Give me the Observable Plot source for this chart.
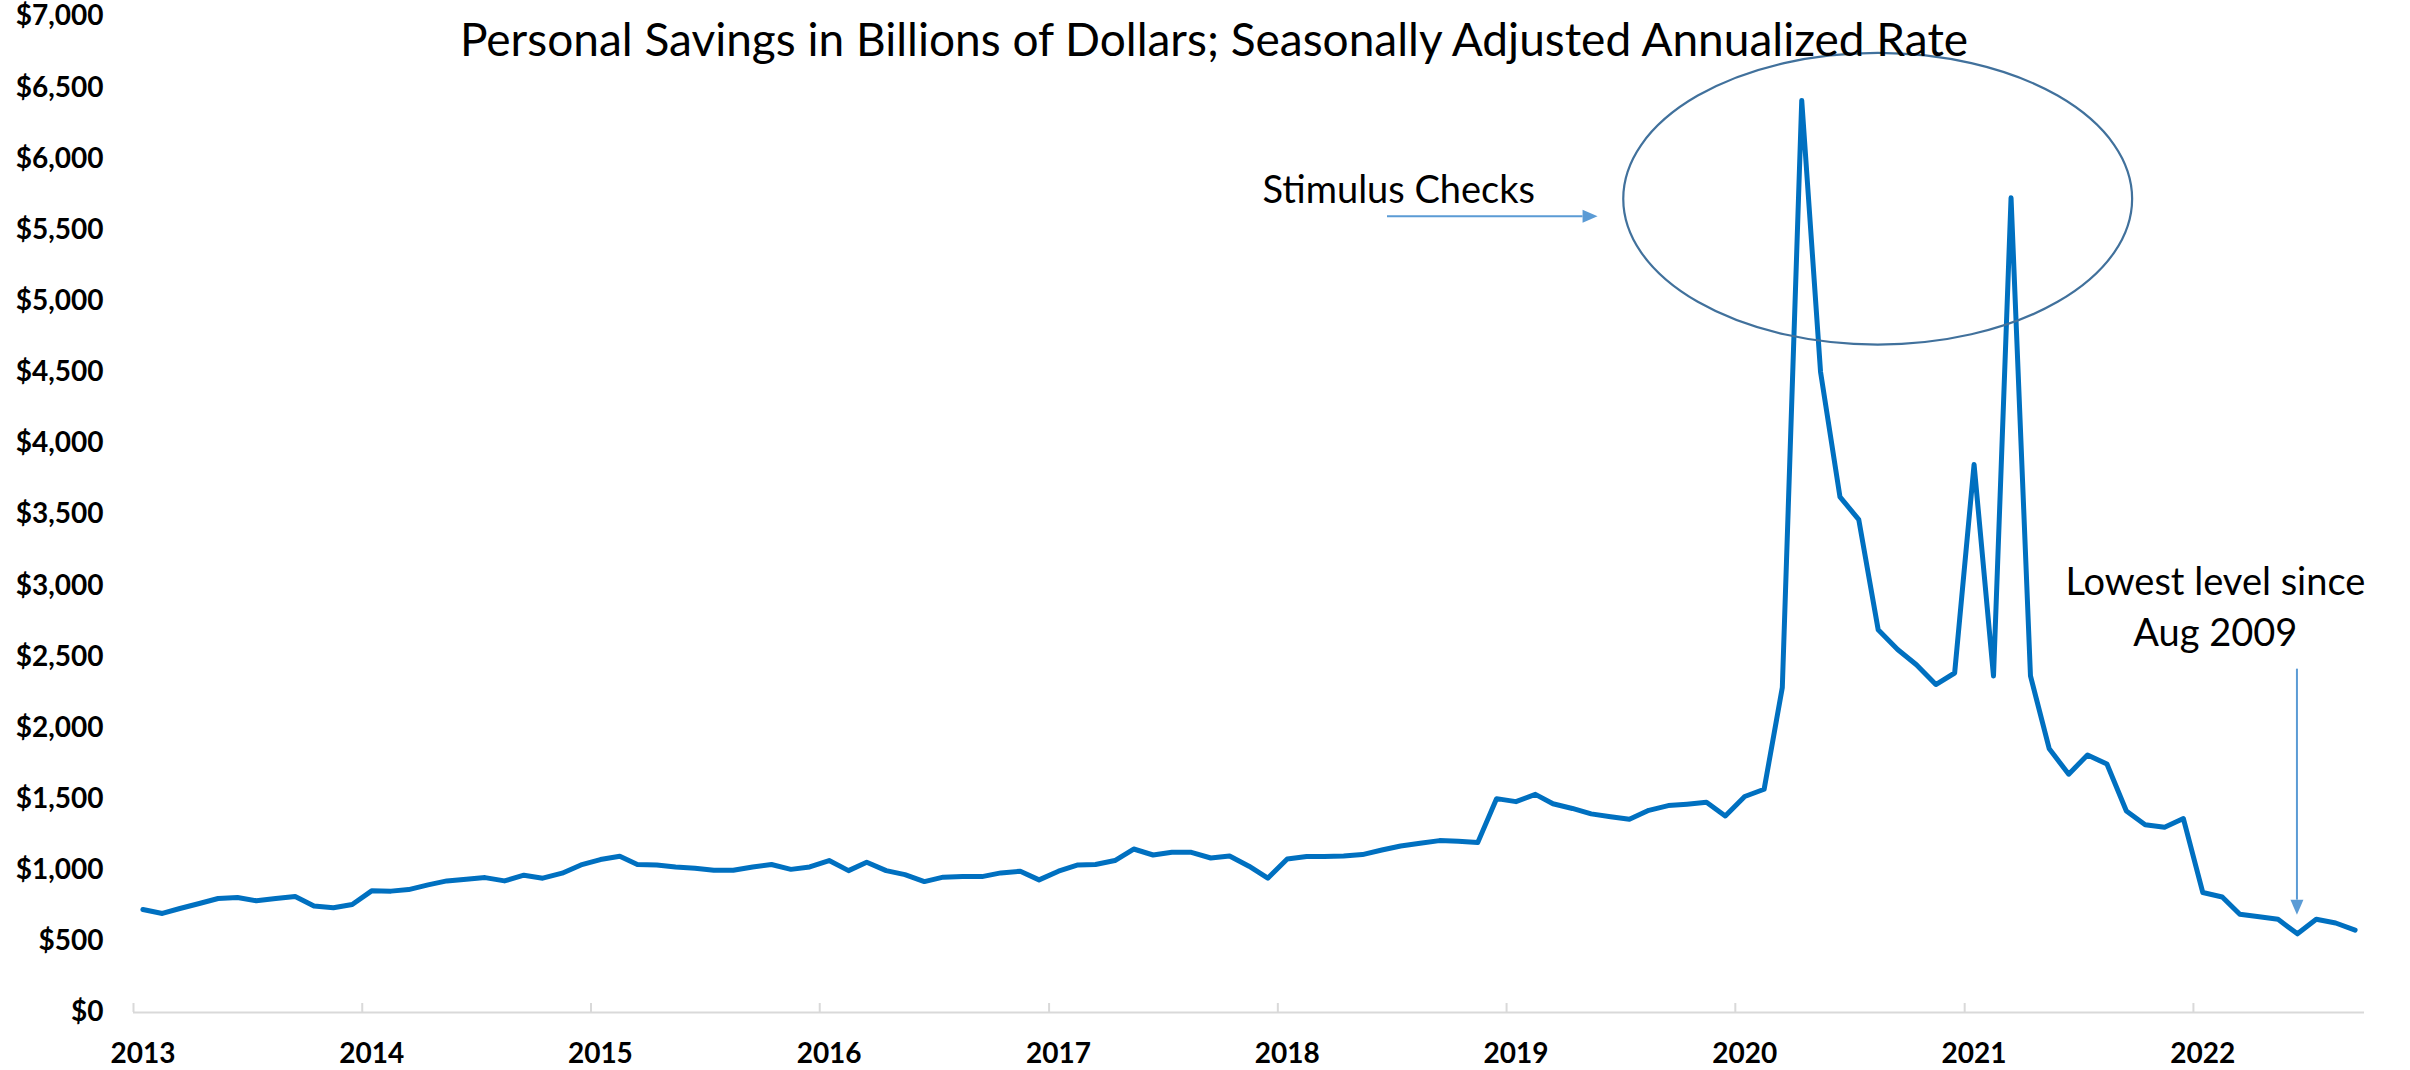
<!DOCTYPE html>
<html>
<head>
<meta charset="utf-8">
<script src="https://cdn.jsdelivr.net/npm/d3@7"></script>
<script src="https://cdn.jsdelivr.net/npm/@observablehq/plot@0.6"></script>
<style>
  html, body { margin: 0; padding: 0; background: #ffffff; }
  #wrap { position: relative; width: 2410px; height: 1070px; overflow: hidden; }
  #title {
    position: absolute; left: 0; top: 16px; width: 2428px;
    text-align: center; font-family: Lato, "Open Sans", sans-serif;
    font-size: 46px; line-height: 46px; color: #000; white-space: nowrap;
  }
</style>
</head>
<body>
<div id="wrap">
  <div id="chart"></div>
  <div id="title">Personal Savings in Billions of Dollars; Seasonally Adjusted Annualized Rate</div>
</div>
<script>
// ---- Data (billions of dollars, SAAR), monthly ----
const yearLabels = ["2013", "2014", "2015", "2016", "2017", "2018", "2019", "2020", "2021", "2022"];
const s2013 = [724, 696, 731, 766, 801, 808, 785, 801, 815, 748, 736, 759];
const s2014 = [855, 853, 864, 897, 925, 937, 948, 925, 965, 944, 979, 1037];
const s2015 = [1075, 1098, 1040, 1037, 1023, 1014, 1000, 1000, 1023, 1040, 1006, 1023];
const s2016 = [1068, 997, 1056, 997, 969, 920, 951, 955, 955, 981, 993, 932];
const s2017 = [993, 1037, 1040, 1068, 1149, 1107, 1126, 1126, 1086, 1100, 1028, 944];
const s2018 = [1079, 1096, 1096, 1100, 1110, 1142, 1170, 1189, 1208, 1203, 1194, 1503];
const s2019 = [1482, 1533, 1467, 1434, 1396, 1376, 1358, 1421, 1454, 1464, 1477, 1381];
const s2020 = [1518, 1569, 2284, 6410, 4503, 3624, 3464, 2690, 2551, 2444, 2305, 2386];
const s2021 = [3852, 2365, 5726, 2365, 1853, 1675, 1810, 1746, 1416, 1320, 1302, 1363];
const s2022 = [843, 812, 690, 673, 655, 553, 655, 629, 579];
const seriesByYear = [s2013, s2014, s2015, s2016, s2017, s2018, s2019, s2020, s2021, s2022];

const yTicks = [0, 500, 1000, 1500, 2000, 2500, 3000, 3500, 4000, 4500, 5000, 5500, 6000, 6500, 7000];

// annotations (in data space)
const stimulusNote = [{date: "2018-07-13", value: 5776, text: "Stimulus Checks"}];
const lowestNote = [{date: "2022-02-05", value: 2867, text: "Lowest level since\nAug 2009"}];
const stimulusEllipse = {x1: "2019-07-07", x2: "2021-09-26", y1: 6741, y2: 4691};
const arrows = [
  {x1: "2018-06-25", x2: "2019-05-27", y1: 5593, y2: 5593},
  {x1: "2022-06-16", x2: "2022-06-16", y1: 2413, y2: 684}
];

// ---- Build table ----
const rows = [];
seriesByYear.forEach((vals, i) => {
  const yr = +yearLabels[i];
  vals.forEach((v, m) => rows.push({date: new Date(Date.UTC(yr, m, 16)), value: v}));
});
const yearTicks = yearLabels.map(y => new Date(Date.UTC(+y, 0, 1)));
const yearLabelPos = yearLabels.map(y => new Date(Date.UTC(+y, 0, 16)));
const parse = s => new Date(s + "T00:00:00Z");

function annotations(index, scales) {
  const x = scales.x, y = scales.y;
  const g = d3.create("svg:g");
  const e = stimulusEllipse;
  const ex1 = x(parse(e.x1)), ex2 = x(parse(e.x2)), ey1 = y(e.y1), ey2 = y(e.y2);
  g.append("ellipse")
    .attr("cx", (ex1 + ex2) / 2).attr("cy", (ey1 + ey2) / 2)
    .attr("rx", Math.abs(ex2 - ex1) / 2).attr("ry", Math.abs(ey2 - ey1) / 2)
    .attr("fill", "none").attr("stroke", "#41719c").attr("stroke-width", 2.2);
  for (const a of arrows) {
    const ax1 = x(parse(a.x1)), ay1 = y(a.y1), ax2 = x(parse(a.x2)), ay2 = y(a.y2);
    const ang = Math.atan2(ay2 - ay1, ax2 - ax1);
    const L = 15, W = 6.5;
    const bx = ax2 - L * Math.cos(ang), by = ay2 - L * Math.sin(ang);
    g.append("line").attr("x1", ax1).attr("y1", ay1).attr("x2", bx).attr("y2", by)
      .attr("stroke", "#5b9bd5").attr("stroke-width", 2);
    g.append("path")
      .attr("d", `M${ax2},${ay2}L${bx - W * Math.sin(ang)},${by + W * Math.cos(ang)}L${bx + W * Math.sin(ang)},${by - W * Math.cos(ang)}Z`)
      .attr("fill", "#5b9bd5");
  }
  return g.node();
}

const chart = Plot.plot({
  width: 2410,
  height: 1070,
  marginLeft: 133,
  marginRight: 46,
  marginTop: 16,
  marginBottom: 58,
  style: {fontFamily: "Lato, 'Open Sans', sans-serif", background: "#ffffff", color: "#000", overflow: "visible"},
  x: {type: "utc", domain: [new Date(Date.UTC(2013, 0, 1)), new Date(Date.UTC(2022, 9, 1))]},
  y: {domain: [0, 7000]},
  marks: [
    Plot.ruleY([0], {stroke: "#d9d9d9", strokeWidth: 2}),
    Plot.axisX({ticks: yearTicks, tickSize: -9, tickFormat: () => "", stroke: "#d9d9d9", strokeWidth: 2, label: null}),
    Plot.axisX({ticks: yearLabelPos, tickSize: 0, tickPadding: 31, tickFormat: d3.utcFormat("%Y"),
      fontSize: 28, fontWeight: "bold", label: null}),
    Plot.axisY({ticks: yTicks, tickSize: 0, tickPadding: 30, tickFormat: d => "$" + d3.format(",")(d),
      fontSize: 28, fontWeight: "bold", label: null}),
    Plot.lineY(rows, {x: "date", y: "value", stroke: "#0070c0", strokeWidth: 5, strokeLinejoin: "round"}),
    annotations,
    Plot.text(stimulusNote, {x: d => parse(d.date), y: "value", text: "text", fontSize: 38, fill: "#000"}),
    Plot.text(lowestNote, {x: d => parse(d.date), y: "value", text: "text", fontSize: 38, lineHeight: 1.34, fill: "#000"})
  ]
});
document.getElementById("chart").appendChild(chart);
</script>
</body>
</html>
